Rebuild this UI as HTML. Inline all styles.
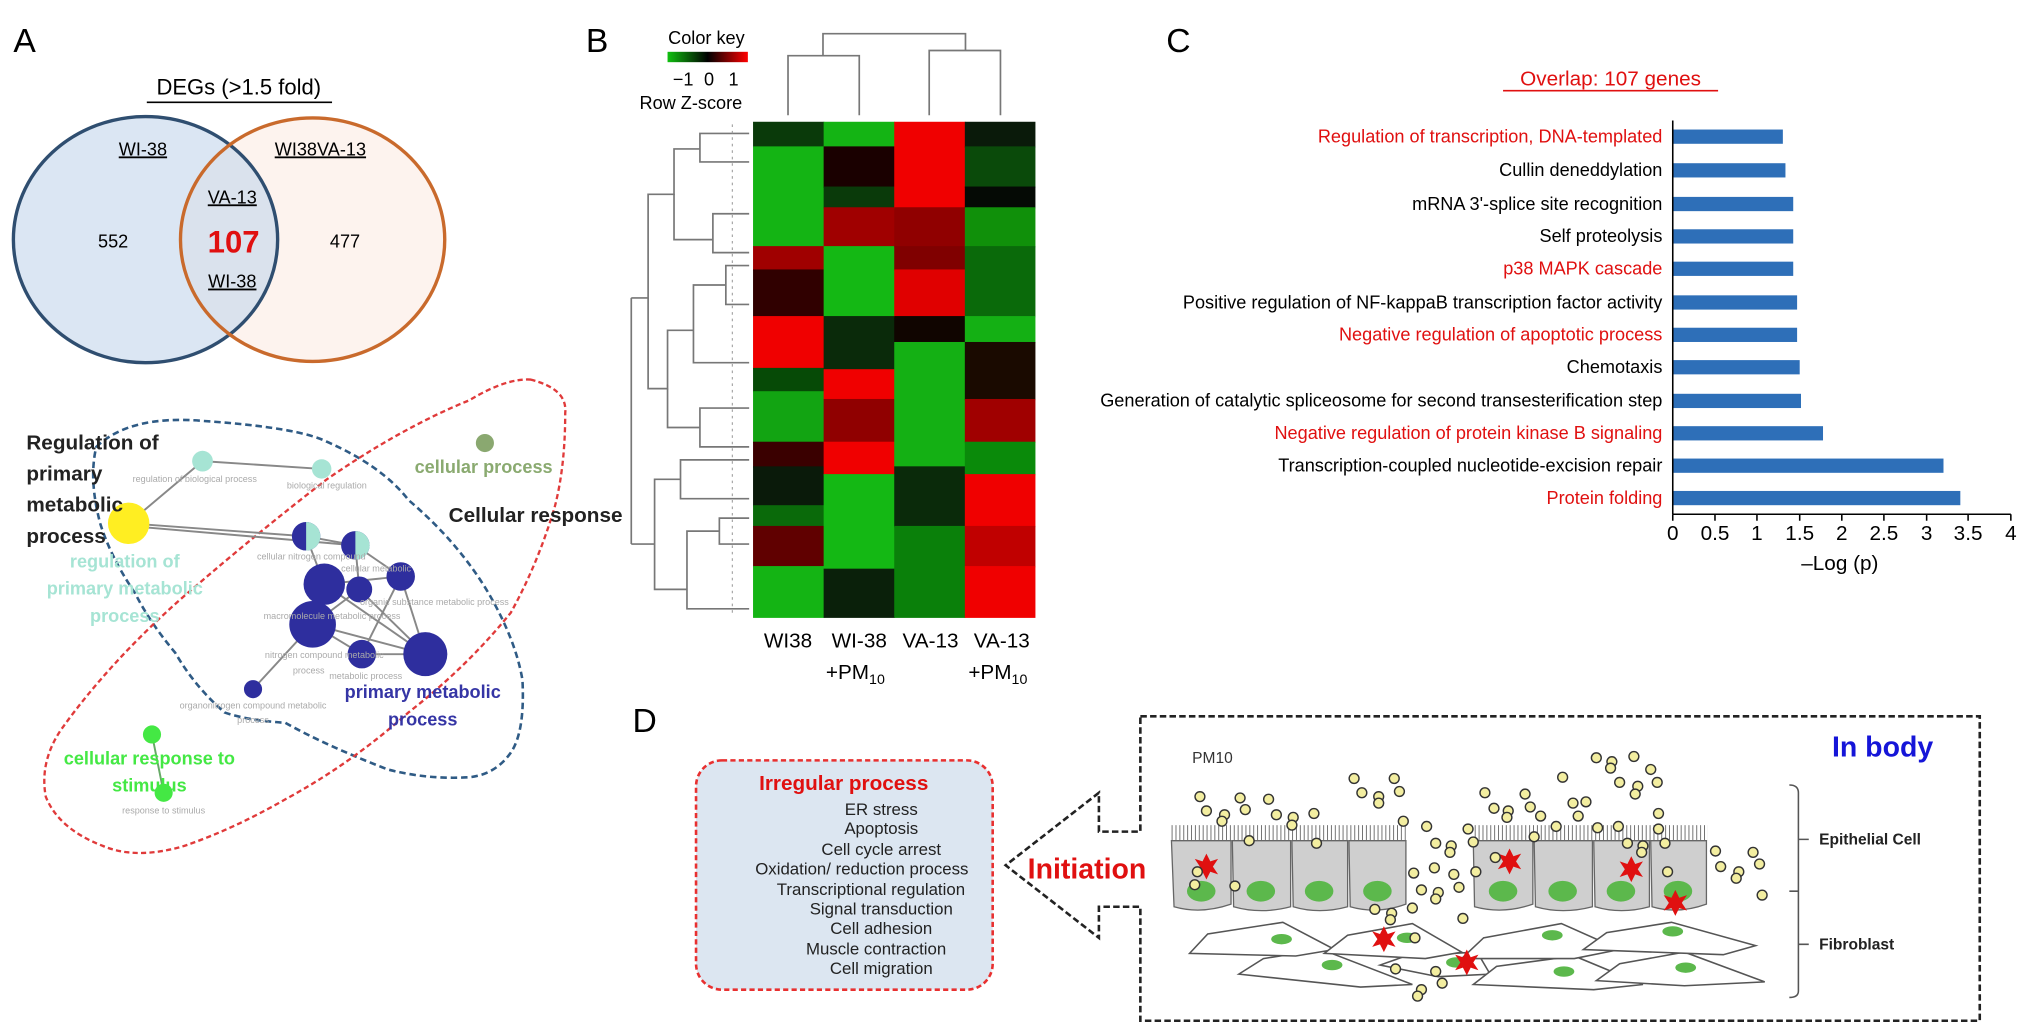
<!DOCTYPE html>
<html><head><meta charset="utf-8"><style>
html,body{margin:0;padding:0;background:#fff;}
svg{display:block;}
text{font-family:"Liberation Sans",Arial,sans-serif;}
</style></head><body>
<svg width="2032" height="1035" viewBox="0 0 1568 799" xmlns="http://www.w3.org/2000/svg">
<rect width="1568" height="799" fill="#fff"/>
<!-- panel letters -->
<text x="10" y="40" font-size="26">A</text>
<text x="452" y="40" font-size="26">B</text>
<text x="900" y="40" font-size="26">C</text>
<text x="488" y="565" font-size="26">D</text>

<!-- Venn -->
<text x="184" y="73" font-size="17" text-anchor="middle">DEGs (&gt;1.5 fold)</text>
<line x1="113" y1="79" x2="256" y2="79" stroke="#000" stroke-width="1.2"/>
<ellipse cx="241" cy="185" rx="102" ry="94" fill="#fdf3ee"/>
<ellipse cx="112" cy="185" rx="102" ry="95" fill="#c8d9ec" fill-opacity="0.65"/>
<ellipse cx="112" cy="185" rx="102" ry="95" fill="none" stroke="#2f4e70" stroke-width="2.6"/>
<ellipse cx="241" cy="185" rx="102" ry="94" fill="none" stroke="#c96a2c" stroke-width="2.6"/>
<text x="110" y="120" font-size="14" text-anchor="middle" text-decoration="underline">WI-38</text>
<text x="247" y="120" font-size="14" text-anchor="middle" text-decoration="underline">WI38VA-13</text>
<text x="179" y="157" font-size="14" text-anchor="middle" text-decoration="underline">VA-13</text>
<text x="180" y="195" font-size="24" font-weight="bold" fill="#e01010" text-anchor="middle">107</text>
<text x="179" y="222" font-size="14" text-anchor="middle" text-decoration="underline">WI-38</text>
<text x="87" y="191" font-size="14" text-anchor="middle">552</text>
<text x="266" y="191" font-size="14" text-anchor="middle">477</text>

<!-- network loops -->
<path d="M74 345 Q100 320 157 325 Q230 330 252 341 Q295 360 315 386 Q355 420 378 460 Q398 495 403 525 Q405 565 394 581 Q382 598 362 600 Q330 602 299 594 Q250 575 220 558 Q190 556 173 550 Q150 530 135 504 Q115 480 104 458 Q85 430 77 404 Q68 370 74 345 Z" fill="none" stroke="#2f5b85" stroke-width="2" stroke-dasharray="5,3"/>
<path d="M409 293 Q438 300 436 319 Q436 360 428 391 Q415 435 394 473 Q360 515 315 550 Q270 590 220 617 Q180 640 142 653 Q105 664 79 653 Q45 640 35 615 Q30 588 47 563 Q85 510 142 460 Q200 410 252 370 Q310 330 362 309 Q390 292 409 293 Z" fill="none" stroke="#e03a3a" stroke-width="1.8" stroke-dasharray="4,2.5"/>
<!-- edges -->
<g stroke="#888" stroke-width="1.5">
<line x1="99" y1="404" x2="156" y2="356"/><line x1="156" y1="356" x2="248" y2="362"/>
<line x1="99" y1="404" x2="236" y2="414"/><line x1="99" y1="406" x2="274" y2="421"/>
<line x1="236" y1="414" x2="274" y2="421"/><line x1="236" y1="414" x2="250" y2="451"/><line x1="274" y1="421" x2="277" y2="455"/>
<line x1="250" y1="451" x2="309" y2="445"/><line x1="250" y1="451" x2="241" y2="482"/><line x1="277" y1="455" x2="328" y2="505"/>
<line x1="241" y1="482" x2="279" y2="505"/><line x1="241" y1="482" x2="328" y2="505"/><line x1="309" y1="445" x2="279" y2="505"/>
<line x1="309" y1="445" x2="328" y2="505"/><line x1="250" y1="451" x2="328" y2="505"/><line x1="277" y1="455" x2="241" y2="482"/>
<line x1="279" y1="505" x2="328" y2="505"/><line x1="241" y1="482" x2="195" y2="532"/><line x1="274" y1="421" x2="309" y2="445"/>
<line x1="117" y1="567" x2="126" y2="612" stroke="#6a6"/>
</g>
<!-- nodes -->
<circle cx="99" cy="404" r="16" fill="#ffee22"/>
<circle cx="156" cy="356" r="8" fill="#a6e4d4"/>
<circle cx="248" cy="362" r="7.5" fill="#a6e4d4"/>
<circle cx="236" cy="414" r="11" fill="#2e2e9e"/><path d="M236 403 A11 11 0 0 1 236 425 Z" fill="#a6e4d4"/>
<circle cx="274" cy="421" r="11" fill="#2e2e9e"/><path d="M274 410 A11 11 0 0 1 274 432 Z" fill="#a6e4d4"/>
<g fill="#2e2e9e">
<circle cx="250" cy="451" r="16"/><circle cx="277" cy="455" r="10"/><circle cx="309" cy="445" r="11"/>
<circle cx="241" cy="482" r="18"/><circle cx="279" cy="505" r="11"/><circle cx="328" cy="505" r="17"/>
<circle cx="195" cy="532" r="7"/></g>
<circle cx="374" cy="342" r="7" fill="#8aa870"/>
<circle cx="117" cy="567" r="7" fill="#44e844"/><circle cx="126" cy="612" r="7" fill="#44e844"/>
<!-- network texts -->
<g font-weight="bold" font-size="16" fill="#222">
<text x="20" y="347">Regulation of</text><text x="20" y="371">primary</text><text x="20" y="395">metabolic</text><text x="20" y="419">process</text>
<text x="346" y="403">Cellular response</text></g>
<text x="373" y="365" font-size="14" font-weight="bold" fill="#8aaa70" text-anchor="middle">cellular process</text>
<g font-size="14" font-weight="bold" fill="#a6e4d4" text-anchor="middle"><text x="96" y="438">regulation of</text><text x="96" y="459">primary metabolic</text><text x="96" y="480">process</text></g>
<g font-size="14" font-weight="bold" fill="#3535a5" text-anchor="middle"><text x="326" y="539">primary metabolic</text><text x="326" y="560">process</text></g>
<g font-size="14" font-weight="bold" fill="#44e844" text-anchor="middle"><text x="115" y="590">cellular response to</text><text x="115" y="611">stimulus</text></g>
<g font-size="7" fill="#aaa" text-anchor="middle">
<text x="150" y="372">regulation of biological process</text><text x="252" y="377">biological regulation</text>
<text x="240" y="432">cellular nitrogen compound</text><text x="290" y="441">cellular metabolic</text>
<text x="335" y="467">organic substance metabolic process</text><text x="256" y="478">macromolecule metabolic process</text>
<text x="250" y="508">nitrogen compound metabolic</text><text x="238" y="520">process</text><text x="282" y="524">metabolic process</text>
<text x="195" y="547">organonitrogen compound metabolic</text><text x="195" y="558">process</text>
<text x="126" y="628">response to stimulus</text></g>

<!-- Panel B color key -->
<text x="545" y="34" font-size="14" text-anchor="middle">Color key</text>
<defs><linearGradient id="ck" x1="0" x2="1"><stop offset="0" stop-color="#10c010"/><stop offset="0.5" stop-color="#000"/><stop offset="1" stop-color="#ff0000"/></linearGradient></defs>
<rect x="515" y="40" width="62" height="8" fill="url(#ck)"/>
<text x="527" y="66" font-size="14" text-anchor="middle">−1</text><text x="547" y="66" font-size="14" text-anchor="middle">0</text><text x="566" y="66" font-size="14" text-anchor="middle">1</text>
<text x="533" y="84" font-size="14" text-anchor="middle">Row Z-score</text>
<!-- column dendrogram -->
<g stroke="#777" stroke-width="1.3" fill="none">
<path d="M608 89 V43 H663 V89"/><path d="M717 89 V39 H772 V89"/><path d="M635 43 V26 H745 V39"/>
<!-- row dendrogram -->
<path d="M487 230 V420"/><path d="M487 230 H500 V150 H520 V115 H540 V103 H578 M540 103 V125 H578"/>
<path d="M500 230 V300 H515 V255 H535 V220 H560 V205 H578 M560 205 V235 H578 M535 255 V280 H578"/>
<path d="M515 300 V330 H540 V315 H578 M540 330 V345 H578"/>
<path d="M520 150 V185 H550 V165 H578 M550 185 V195 H578"/>
<path d="M487 420 H505 V370 H525 V355 H578 M525 370 V385 H578 M505 420 V455 H530 V410 H555 V400 H578 M555 410 V420 H578 M530 455 V470 H578"/>
</g>
<g stroke="#999" stroke-width="0.8"><path d="M565 96 V476" stroke-dasharray="2,3"/></g>
<!-- heatmap -->
<g>
<rect x="581" y="94" width="55" height="20" fill="#0a3a0a"/>
<rect x="581" y="113" width="55" height="78" fill="#14b414"/>
<rect x="581" y="190" width="55" height="19" fill="#a00000"/>
<rect x="581" y="208" width="55" height="37" fill="#300000"/>
<rect x="581" y="244" width="55" height="41" fill="#f00000"/>
<rect x="581" y="284" width="55" height="19" fill="#064a06"/>
<rect x="581" y="302" width="55" height="40" fill="#12a412"/>
<rect x="581" y="341" width="55" height="20" fill="#3a0000"/>
<rect x="581" y="360" width="55" height="31" fill="#0a1a0a"/>
<rect x="581" y="390" width="55" height="17" fill="#0a6a0a"/>
<rect x="581" y="406" width="55" height="32" fill="#600000"/>
<rect x="581" y="437" width="55" height="40" fill="#14b414"/>
<rect x="635.5" y="94" width="55" height="20" fill="#14b414"/>
<rect x="635.5" y="113" width="55" height="32" fill="#1a0000"/>
<rect x="635.5" y="144" width="55" height="17" fill="#0a3a0a"/>
<rect x="635.5" y="160" width="55" height="31" fill="#a00000"/>
<rect x="635.5" y="190" width="55" height="55" fill="#14b814"/>
<rect x="635.5" y="244" width="55" height="42" fill="#0a2a0a"/>
<rect x="635.5" y="285" width="55" height="24" fill="#f00000"/>
<rect x="635.5" y="308" width="55" height="34" fill="#900000"/>
<rect x="635.5" y="341" width="55" height="26" fill="#f00000"/>
<rect x="635.5" y="366" width="55" height="74" fill="#14b814"/>
<rect x="635.5" y="439" width="55" height="38" fill="#0a200a"/>
<rect x="690" y="94" width="55" height="67" fill="#f00000"/>
<rect x="690" y="160" width="55" height="31" fill="#900000"/>
<rect x="690" y="190" width="55" height="19" fill="#800000"/>
<rect x="690" y="208" width="55" height="37" fill="#e00000"/>
<rect x="690" y="244" width="55" height="21" fill="#100500"/>
<rect x="690" y="264" width="55" height="97" fill="#14b014"/>
<rect x="690" y="360" width="55" height="47" fill="#0a2a0a"/>
<rect x="690" y="406" width="55" height="71" fill="#0a800a"/>
<rect x="744.5" y="94" width="54.5" height="20" fill="#0a1a0a"/>
<rect x="744.5" y="113" width="54.5" height="32" fill="#0a4a0a"/>
<rect x="744.5" y="144" width="54.5" height="17" fill="#050a05"/>
<rect x="744.5" y="160" width="54.5" height="31" fill="#10900a"/>
<rect x="744.5" y="190" width="54.5" height="55" fill="#0a6a0a"/>
<rect x="744.5" y="244" width="54.5" height="21" fill="#14b014"/>
<rect x="744.5" y="264" width="54.5" height="45" fill="#1a0a00"/>
<rect x="744.5" y="308" width="54.5" height="34" fill="#a00000"/>
<rect x="744.5" y="341" width="54.5" height="26" fill="#0a8a0a"/>
<rect x="744.5" y="366" width="54.5" height="41" fill="#f00000"/>
<rect x="744.5" y="406" width="54.5" height="32" fill="#c00000"/>
<rect x="744.5" y="437" width="54.5" height="40" fill="#f00000"/>
</g>
<g font-size="16" text-anchor="middle">
<text x="608" y="500">WI38</text>
<text x="663" y="500">WI-38</text><text x="660" y="524">+PM<tspan font-size="11" dy="4">10</tspan></text>
<text x="718" y="500">VA-13</text>
<text x="773" y="500">VA-13</text><text x="770" y="524">+PM<tspan font-size="11" dy="4">10</tspan></text>
</g>

<!-- Panel C -->
<text x="1243" y="66" font-size="16" fill="#e01010" text-anchor="middle">Overlap: 107 genes</text>
<line x1="1160" y1="70" x2="1326" y2="70" stroke="#e01010" stroke-width="1.2"/>
<g font-size="14" text-anchor="end">
<text x="1283" y="110" fill="#e01010">Regulation of transcription, DNA-templated</text>
<text x="1283" y="136">Cullin deneddylation</text>
<text x="1283" y="162">mRNA 3'-splice site recognition</text>
<text x="1283" y="187">Self proteolysis</text>
<text x="1283" y="212" fill="#e01010">p38 MAPK cascade</text>
<text x="1283" y="238">Positive regulation of NF-kappaB transcription factor activity</text>
<text x="1283" y="263" fill="#e01010">Negative regulation of apoptotic process</text>
<text x="1283" y="288">Chemotaxis</text>
<text x="1283" y="314">Generation of catalytic spliceosome for second transesterification step</text>
<text x="1283" y="339" fill="#e01010">Negative regulation of protein kinase B signaling</text>
<text x="1283" y="364">Transcription-coupled nucleotide-excision repair</text>
<text x="1283" y="389" fill="#e01010">Protein folding</text>
</g>
<g fill="#2e6fb8">
<rect x="1291" y="100" width="85" height="11"/>
<rect x="1291" y="126" width="87" height="11"/>
<rect x="1291" y="152" width="93" height="11"/>
<rect x="1291" y="177" width="93" height="11"/>
<rect x="1291" y="202" width="93" height="11"/>
<rect x="1291" y="228" width="96" height="11"/>
<rect x="1291" y="253" width="96" height="11"/>
<rect x="1291" y="278" width="98" height="11"/>
<rect x="1291" y="304" width="99" height="11"/>
<rect x="1291" y="329" width="116" height="11"/>
<rect x="1291" y="354" width="209" height="11"/>
<rect x="1291" y="379" width="222" height="11"/>
</g>
<g stroke="#000" stroke-width="1.2"><line x1="1291" y1="93" x2="1291" y2="397"/><line x1="1291" y1="397" x2="1552" y2="397"/>
<line x1="1291" y1="397" x2="1291" y2="402"/><line x1="1323.6" y1="397" x2="1323.6" y2="402"/><line x1="1356" y1="397" x2="1356" y2="402"/><line x1="1389" y1="397" x2="1389" y2="402"/><line x1="1421.5" y1="397" x2="1421.5" y2="402"/><line x1="1454" y1="397" x2="1454" y2="402"/><line x1="1487" y1="397" x2="1487" y2="402"/><line x1="1519" y1="397" x2="1519" y2="402"/><line x1="1552" y1="397" x2="1552" y2="402"/></g>
<g font-size="16" text-anchor="middle">
<text x="1291" y="417">0</text><text x="1323.6" y="417">0.5</text><text x="1356" y="417">1</text><text x="1389" y="417">1.5</text><text x="1421.5" y="417">2</text><text x="1454" y="417">2.5</text><text x="1487" y="417">3</text><text x="1519" y="417">3.5</text><text x="1552" y="417">4</text>
<text x="1420" y="440">–Log (p)</text></g>

<!-- Panel D -->
<rect x="537" y="587" width="229" height="177" rx="20" fill="#dce6f1" stroke="#e83030" stroke-width="2" stroke-dasharray="4,2.5"/>
<text x="651" y="610" font-size="16" font-weight="bold" fill="#e01010" text-anchor="middle">Irregular process</text>
<g font-size="13" text-anchor="middle" fill="#222">
<text x="680" y="629">ER stress</text><text x="680" y="644">Apoptosis</text><text x="680" y="660">Cell cycle arrest</text>
<text x="665" y="675">Oxidation/ reduction process</text><text x="672" y="691">Transcriptional regulation</text>
<text x="680" y="706">Signal transduction</text><text x="680" y="721">Cell adhesion</text>
<text x="676" y="737">Muscle contraction</text><text x="680" y="752">Cell migration</text></g>
<path d="M880 553 H1528 V788 H880 V700 H848 V724 L776 668 L848 612 V642 H880 Z" fill="none" stroke="#222" stroke-width="2" stroke-dasharray="5,2.5"/>
<text x="793" y="678" font-size="22" font-weight="bold" fill="#e01010">Initiation</text>
<text x="1453" y="584" font-size="22" font-weight="bold" fill="#1515d8" text-anchor="middle">In body</text>
<text x="920" y="589" font-size="12" fill="#333">PM10</text>
<g font-size="12" font-weight="bold" fill="#222"><text x="1404" y="652">Epithelial Cell</text><text x="1404" y="733">Fibroblast</text></g>
<path d="M1381 606 Q1388 606 1388 612 V765 Q1388 770 1381 770 M1388 648 H1396 M1381 688 H1388 M1388 729 H1396" fill="none" stroke="#555" stroke-width="1.2"/>
<g fill="#fff" stroke="#555" stroke-width="1.2">
<path d="M956 752 L975 740 L1020 733 L1090 760 L1050 762 Z"/>
<path d="M1065 745 L1085 738 L1140 735 L1150 752 L1110 754 Z"/>
<path d="M1137 760 L1155 746 L1215 738 L1268 760 L1230 764 Z"/>
<path d="M1232 757 L1250 744 L1300 735 L1362 758 L1300 761 Z"/>
<path d="M918 736 L932 721 L990 712 L1030 733 L1000 738 Z"/>
<path d="M1022 736 L1040 722 L1090 713 L1128 735 L1100 740 Z"/>
<path d="M1128 740 L1145 724 L1205 713 L1250 733 L1215 740 Z"/>
<path d="M1222 733 L1240 720 L1290 712 L1355 730 L1330 737 Z"/>
</g>
<g fill="#5cb84c">
<ellipse cx="989" cy="725" rx="8" ry="4"/><ellipse cx="1086" cy="724" rx="8" ry="4"/><ellipse cx="1198" cy="722" rx="8" ry="4"/><ellipse cx="1291" cy="719" rx="8" ry="4"/>
<ellipse cx="1028" cy="745" rx="8" ry="4"/><ellipse cx="1124" cy="743" rx="8" ry="4"/><ellipse cx="1207" cy="750" rx="8" ry="4"/><ellipse cx="1301" cy="747" rx="8" ry="4"/></g>
<defs><pattern id="cil" width="3" height="13" patternUnits="userSpaceOnUse"><line x1="1.5" y1="0" x2="1.5" y2="13" stroke="#666" stroke-width="0.7"/></pattern></defs>
<g stroke="#666" stroke-width="1" fill="#cfcfcf">
<path d="M904 649 H950 V698 Q927 706 906 700 Z"/>
<path d="M951 649 H996 V700 Q973 706 952 700 Z"/>
<path d="M997 649 H1040 V700 Q1018 706 998 700 Z"/>
<path d="M1041 649 H1085 V698 Q1063 706 1042 700 Z"/>
<path d="M1137 649 H1183 V698 Q1160 706 1138 700 Z"/>
<path d="M1184 649 H1229 V700 Q1206 706 1185 700 Z"/>
<path d="M1230 649 H1273 V700 Q1251 706 1231 700 Z"/>
<path d="M1274 649 H1317 V698 Q1295 706 1275 700 Z"/>
</g>
<rect x="904" y="637" width="181" height="12" fill="url(#cil)"/>
<rect x="1137" y="637" width="181" height="12" fill="url(#cil)"/>
<g fill="#5cb84c">
<ellipse cx="927" cy="688" rx="11" ry="8"/><ellipse cx="973" cy="688" rx="11" ry="8"/><ellipse cx="1018" cy="688" rx="11" ry="8"/><ellipse cx="1063" cy="688" rx="11" ry="8"/>
<ellipse cx="1160" cy="688" rx="11" ry="8"/><ellipse cx="1206" cy="688" rx="11" ry="8"/><ellipse cx="1251" cy="688" rx="11" ry="8"/><ellipse cx="1295" cy="688" rx="11" ry="8"/></g>
<g fill="#e01010">
<polygon transform="translate(931 669)" points="0,-10 3,-4 9,-6 5,0 9,6 3,4 0,10 -3,4 -9,6 -5,0 -9,-6 -3,-4"/>
<polygon transform="translate(1165 665)" points="0,-10 3,-4 9,-6 5,0 9,6 3,4 0,10 -3,4 -9,6 -5,0 -9,-6 -3,-4"/>
<polygon transform="translate(1259 671)" points="0,-10 3,-4 9,-6 5,0 9,6 3,4 0,10 -3,4 -9,6 -5,0 -9,-6 -3,-4"/>
<polygon transform="translate(1293 697)" points="0,-10 3,-4 9,-6 5,0 9,6 3,4 0,10 -3,4 -9,6 -5,0 -9,-6 -3,-4"/>
<polygon transform="translate(1068 725)" points="0,-10 3,-4 9,-6 5,0 9,6 3,4 0,10 -3,4 -9,6 -5,0 -9,-6 -3,-4"/>
<polygon transform="translate(1132 743)" points="0,-10 3,-4 9,-6 5,0 9,6 3,4 0,10 -3,4 -9,6 -5,0 -9,-6 -3,-4"/>
</g>
<g fill="#f3eea0" stroke="#333" stroke-width="1.1">
<circle cx="926" cy="615" r="3.8"/><circle cx="931" cy="626" r="3.8"/><circle cx="945" cy="629" r="3.8"/><circle cx="943" cy="634" r="3.8"/>
<circle cx="957" cy="616" r="3.8"/><circle cx="961" cy="625" r="3.8"/><circle cx="979" cy="617" r="3.8"/><circle cx="985" cy="629" r="3.8"/>
<circle cx="998" cy="631" r="3.8"/><circle cx="997" cy="637" r="3.8"/><circle cx="1014" cy="628" r="3.8"/><circle cx="964" cy="649" r="3.8"/>
<circle cx="1016" cy="651" r="3.8"/><circle cx="1045" cy="601" r="3.8"/><circle cx="1076" cy="601" r="3.8"/><circle cx="1051" cy="612" r="3.8"/>
<circle cx="1080" cy="611" r="3.8"/><circle cx="1064" cy="615" r="3.8"/><circle cx="1064" cy="620" r="3.8"/><circle cx="1083" cy="634" r="3.8"/>
<circle cx="1101" cy="638" r="3.8"/><circle cx="1108" cy="651" r="3.8"/><circle cx="1120" cy="653" r="3.8"/><circle cx="1119" cy="658" r="3.8"/>
<circle cx="1133" cy="640" r="3.8"/><circle cx="1137" cy="650" r="3.8"/><circle cx="1107" cy="670" r="3.8"/><circle cx="1091" cy="674" r="3.8"/>
<circle cx="1122" cy="675" r="3.8"/><circle cx="1126" cy="685" r="3.8"/><circle cx="1097" cy="687" r="3.8"/><circle cx="1110" cy="689" r="3.8"/>
<circle cx="1108" cy="694" r="3.8"/><circle cx="1061" cy="702" r="3.8"/><circle cx="1074" cy="705" r="3.8"/><circle cx="1073" cy="710" r="3.8"/>
<circle cx="1090" cy="701" r="3.8"/><circle cx="1129" cy="709" r="3.8"/><circle cx="1092" cy="724" r="3.8"/><circle cx="1077" cy="748" r="3.8"/>
<circle cx="1108" cy="750" r="3.8"/><circle cx="1113" cy="759" r="3.8"/><circle cx="1097" cy="764" r="3.8"/><circle cx="1094" cy="769" r="3.8"/>
<circle cx="1146" cy="612" r="3.8"/><circle cx="1153" cy="624" r="3.8"/><circle cx="1164" cy="626" r="3.8"/><circle cx="1163" cy="631" r="3.8"/>
<circle cx="1177" cy="613" r="3.8"/><circle cx="1181" cy="623" r="3.8"/><circle cx="1189" cy="630" r="3.8"/><circle cx="1201" cy="638" r="3.8"/>
<circle cx="1184" cy="646" r="3.8"/><circle cx="1154" cy="662" r="3.8"/><circle cx="1139" cy="673" r="3.8"/><circle cx="1206" cy="600" r="3.8"/>
<circle cx="1232" cy="585" r="3.8"/><circle cx="1244" cy="588" r="3.8"/><circle cx="1261" cy="584" r="3.8"/><circle cx="1243" cy="593" r="3.8"/>
<circle cx="1274" cy="594" r="3.8"/><circle cx="1279" cy="604" r="3.8"/><circle cx="1250" cy="604" r="3.8"/><circle cx="1264" cy="607" r="3.8"/>
<circle cx="1262" cy="613" r="3.8"/><circle cx="1214" cy="620" r="3.8"/><circle cx="1224" cy="619" r="3.8"/><circle cx="1218" cy="630" r="3.8"/>
<circle cx="1233" cy="639" r="3.8"/><circle cx="1249" cy="638" r="3.8"/><circle cx="1280" cy="628" r="3.8"/><circle cx="1280" cy="640" r="3.8"/>
<circle cx="1285" cy="651" r="3.8"/><circle cx="1256" cy="651" r="3.8"/><circle cx="1268" cy="653" r="3.8"/><circle cx="1267" cy="658" r="3.8"/>
<circle cx="1287" cy="673" r="3.8"/><circle cx="1324" cy="657" r="3.8"/><circle cx="1328" cy="669" r="3.8"/><circle cx="1342" cy="673" r="3.8"/>
<circle cx="1340" cy="678" r="3.8"/><circle cx="1353" cy="658" r="3.8"/><circle cx="1358" cy="667" r="3.8"/><circle cx="1360" cy="691" r="3.8"/>
<circle cx="924" cy="673" r="3.8"/><circle cx="922" cy="683" r="3.8"/><circle cx="953" cy="684" r="3.8"/>
</g>
</svg>
</body></html>
